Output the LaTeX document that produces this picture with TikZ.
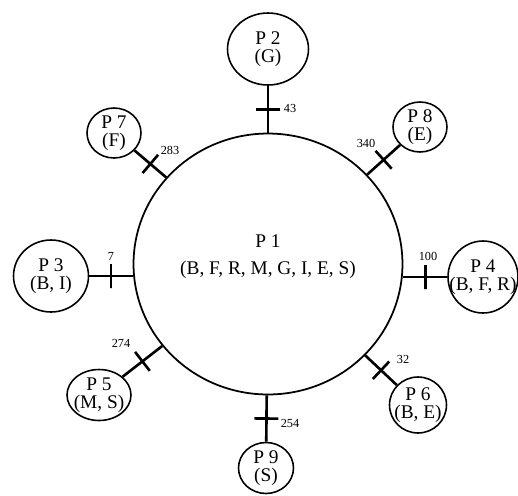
\documentclass[tikz,border=0pt]{standalone}
\usepackage{fontspec}
\setmainfont{Liberation Serif}
\usetikzlibrary{shapes.geometric}
\begin{document}
\begin{tikzpicture}[x=0.02cm,y=-0.02cm,
  ptext/.style={align=center, inner sep=0pt, font=\fontsize{11}{10.5}\selectfont},
  proc/.style={ellipse, draw, line width=0.9pt, inner sep=0pt},
  conn/.style={line width=1.5pt},
  tickmark/.style={sloped, draw, rectangle, minimum width=0pt, minimum height=0.48cm, inner sep=0pt, line width=1.5pt},
  num/.style={font=\fontsize{7}{8}\selectfont, inner sep=0pt}]
\useasboundingbox (0,0) rectangle (518,495);
\node[proc, line width=1pt, minimum width=5.38cm, minimum height=5.22cm,
  label={[ptext, yshift=0.15cm]center:{P 1\\[4.9pt](B, F, R, M, G, I, E, S)}}] (p1) at (268,264) {};
\node[proc, minimum width=1.62cm, minimum height=1.44cm, label={[ptext]center:{P 2\\(G)}}] (p2) at (268,49) {};
\node[proc, minimum width=1.50cm, minimum height=1.44cm, label={[ptext]center:{P 3\\(B, I)}}] (p3) at (51,276) {};
\node[proc, minimum width=1.40cm, minimum height=1.44cm, label={[ptext]center:{P 4\\(B, F, R)}}] (p4) at (483,277) {};
\node[proc, minimum width=1.28cm, minimum height=1.02cm, label={[ptext]center:{P 5\\(M, S)}}] (p5) at (99,395) {};
\node[proc, minimum width=1.14cm, minimum height=1.12cm, label={[ptext]center:{P 6\\(B, E)}}] (p6) at (418,405) {};
\node[proc, minimum width=1.08cm, minimum height=1.00cm, label={[ptext]center:{P 7\\(F)}}] (p7) at (114,133) {};
\node[proc, minimum width=1.08cm, minimum height=1.00cm, label={[ptext]center:{P 8\\(E)}}] (p8) at (420,127) {};
\node[proc, minimum width=1.10cm, minimum height=1.02cm, label={[ptext]center:{P 9\\(S)}}] (p9) at (266,468) {};
\draw[conn] (p2) -- node[tickmark]{} (p1);
\draw[conn] (p3) -- node[tickmark]{} (p3 -| p1.west);
\draw[conn] (p4) -- node[tickmark]{} (p4 -| p1.east);
\draw[conn] (p5) -- node[tickmark]{} (p1);
\draw[conn] (p6) -- node[tickmark]{} (p1);
\draw[conn] (p7) -- node[tickmark]{} (p1);
\draw[conn] (p8) -- node[tickmark]{} (p1);
\draw[conn] (p9) -- node[tickmark]{} (p1);
\node[num] (l43) at (290,108) {43};
\node[num] (l283) at (170,150) {283};
\node[num] (l340) at (366,143) {340};
\node[num] (l7) at (111,256) {7};
\node[num] (l100) at (428,256) {100};
\node[num] (l274) at (121,343) {274};
\node[num] (l32) at (403,359) {32};
\node[num] (l254) at (290,423) {254};
\end{tikzpicture}
\end{document}
